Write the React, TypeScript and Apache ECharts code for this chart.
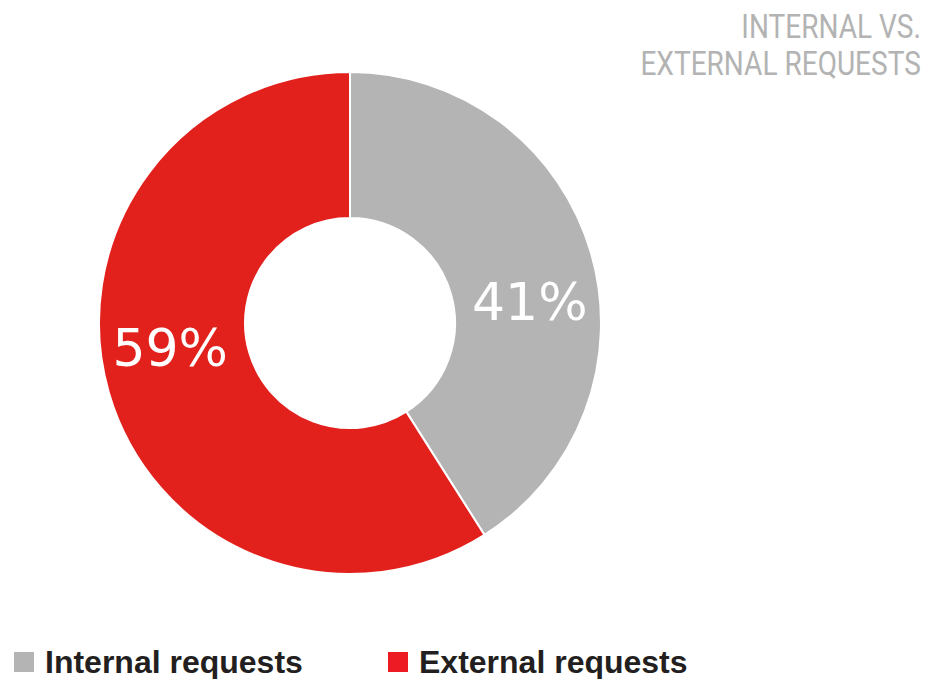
import React, { useEffect, useRef } from "react";
import * as echarts from "echarts";

const categories = ["Internal requests", "External requests"];
const values = [41, 59];
const titleLines = ["INTERNAL VS.", "EXTERNAL REQUESTS"];

const sliceColors = ["#b4b4b4", "#e2201c"];
const legendColors = ["#b4b4b4", "#ed1c24"];
const legendLefts = [12, 386];
const labelOffsets = [
  [6, 29],
  [-6, -25],
];

export default function App() {
  const ref = useRef<HTMLDivElement>(null);
  useEffect(() => {
    document.body.style.margin = "0";
    const chart = echarts.init(ref.current!, null, { renderer: "svg" });
    chart.setOption({
      animation: false,
      backgroundColor: "#ffffff",
      graphic: titleLines.map((t, i) => ({
        type: "text",
        right: 11,
        top: 10 + i * 37,
        style: {
          text: t,
          fontFamily: "Roboto",
          fontWeight: 400,
          fontSize: 33,
          fill: "#b3b3b3",
        },
        scaleX: 0.85,
        originX: 921,
      })),
      legend: categories.map((c, i) => ({
        left: legendLefts[i],
        top: 646,
        padding: 0,
        itemWidth: 22,
        itemHeight: 22,
        itemGap: 0,
        icon: "rect",
        selectedMode: false,
        data: [{ name: c, itemStyle: { color: legendColors[i] } }],
        textStyle: {
          fontFamily: "Liberation Sans",
          fontWeight: "bold",
          fontSize: 32,
          lineHeight: 30,
          color: "#231f20",
          padding: [0, 0, 0, 5],
        },
      })),
      series: [
        {
          type: "pie",
          center: [350, 323],
          radius: [105, 251],
          startAngle: 90,
          clockwise: true,
          silent: true,
          itemStyle: { borderColor: "#ffffff", borderWidth: 2 },
          label: {
            show: true,
            position: "inside",
            formatter: "{d}%",
            fontFamily: "DejaVu Sans",
            fontSize: 52,
            color: "#ffffff",
          },
          labelLine: { show: false },
          data: categories.map((c, i) => ({
            name: c,
            value: values[i],
            itemStyle: { color: sliceColors[i] },
            label: { offset: labelOffsets[i] },
          })),
        },
      ],
    });
    return () => chart.dispose();
  }, []);
  return (
    <div
      ref={ref}
      style={{ position: "fixed", left: 0, top: 0, width: 932, height: 679 }}
    />
  );
}
